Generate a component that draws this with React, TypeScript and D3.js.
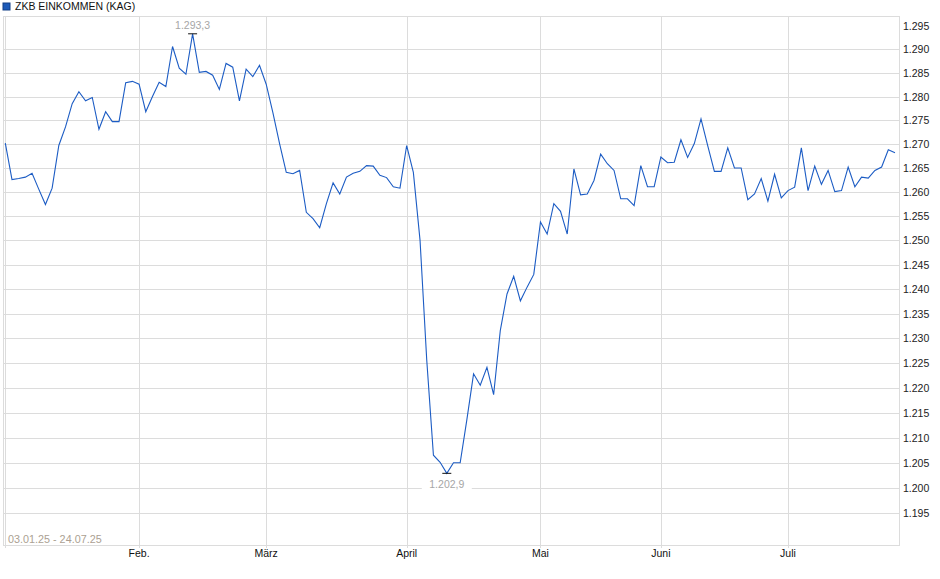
import * as d3 from 'd3'

// ZKB EINKOMMEN (KAG), daily prices 03.01.25 - 24.07.25 (one value per trading day)
const seriesName = 'ZKB EINKOMMEN (KAG)'
const rangeLabel = '03.01.25 - 24.07.25'

const janValues = [
  1.2702, 1.2626, 1.2628, 1.2631, 1.2639, 1.2606, 1.2574, 1.2608, 1.2697, 1.2736,
  1.2785, 1.281, 1.2791, 1.2798, 1.2731, 1.2768, 1.2747, 1.2747, 1.2829, 1.2832,
]
const febValues = [
  1.2826, 1.2768, 1.28, 1.283, 1.2821, 1.2906, 1.286, 1.2847, 1.2933, 1.2851,
  1.2853, 1.2845, 1.2815, 1.287, 1.2862, 1.2791, 1.2858, 1.2842, 1.2866,
]
const marValues = [
  1.2826, 1.2766, 1.2701, 1.2641, 1.2638, 1.2645, 1.2558, 1.2545, 1.2526, 1.2576,
  1.2619, 1.2596, 1.2631, 1.2639, 1.2643, 1.2655, 1.2654, 1.2635, 1.263, 1.2611,
  1.2608,
]
const aprValues = [
  1.2697, 1.2641, 1.25, 1.2256, 1.2065, 1.2051, 1.2029, 1.205, 1.205, 1.2136,
  1.2228, 1.2205, 1.2241, 1.2186, 1.2316, 1.239, 1.2426, 1.2376, 1.2404, 1.243,
]
const mayValues = [
  1.2538, 1.2513, 1.2576, 1.256, 1.2513, 1.2648, 1.2594, 1.2596, 1.2624, 1.2679,
  1.2659, 1.2645, 1.2586, 1.2586, 1.2572, 1.2655, 1.2611, 1.2611,
]
const junValues = [
  1.2673, 1.2661, 1.2662, 1.2709, 1.2672, 1.2701, 1.2753, 1.2697, 1.2643, 1.2643,
  1.2692, 1.265, 1.265, 1.2584, 1.2596, 1.2628, 1.2581, 1.2637, 1.2588,
]
const julValues = [
  1.2603, 1.261, 1.2692, 1.2603, 1.2654, 1.2616, 1.2645, 1.2601, 1.2603, 1.2652,
  1.2611, 1.2631, 1.2629, 1.2645, 1.2652, 1.2688, 1.2682,
]

const monthLabels = ['', 'Feb.', 'März', 'April', 'Mai', 'Juni', 'Juli']
const monthBlocks = [janValues, febValues, marValues, aprValues, mayValues, junValues, julValues]
const yTicks = [
  1.195, 1.2, 1.205, 1.21, 1.215, 1.22, 1.225, 1.23, 1.235, 1.24, 1.245,
  1.25, 1.255, 1.26, 1.265, 1.27, 1.275, 1.28, 1.285, 1.29, 1.295,
]

const values = monthBlocks.flat()
// index of the first trading day of every month
const monthStarts = monthBlocks.map((_, i) =>
  d3.sum(monthBlocks.slice(0, i), (b) => b.length)
)

const width = 940
const height = 579
const plotLeft = 3
const plotRight = 899
const plotTop = 16
const plotBottom = 545
const font = '"Liberation Sans", Arial, sans-serif'
const gridColor = '#dcdcdc'
const lineColor = '#1c5cc4'

const deFormat = d3.formatLocale({
  decimal: ',',
  thousands: '.',
  grouping: [3],
  currency: ['', ' €'],
}).format(',.1f')

export default function App() {
  const x = d3.scaleLinear().domain([0, values.length - 1]).range([5.3, 895])
  // the price axis is logarithmic
  const y = d3.scaleLog().domain([1.195, 1.29]).range([513.3, 49.3])

  const line = d3
    .line<number>()
    .x((_d, i) => x(i))
    .y((d) => y(d))

  const maxI = d3.maxIndex(values)
  const minI = d3.minIndex(values)
  const maxText = deFormat(values[maxI] * 1000)
  const minText = deFormat(values[minI] * 1000)

  return (
    <div style={{ position: 'absolute', left: 0, top: 0 }}>
      <svg width={width} height={height} style={{ display: 'block', fontFamily: font }}>
        <rect width={width} height={height} fill="#fff" />

        {/* legend */}
        <rect x={3} y={3} width={7} height={7} fill="#1d5ab8" stroke="#123e86" strokeWidth={1} />
        <text x={15} y={10} fontSize={10.5} fill="#111">
          {seriesName}
        </text>

        {/* horizontal grid */}
        {yTicks
          .filter((t) => y(t) > plotTop + 12)
          .map((t) => (
            <line
              key={'g' + t}
              x1={plotLeft}
              x2={plotRight}
              y1={Math.round(y(t)) + 0.5}
              y2={Math.round(y(t)) + 0.5}
              stroke={gridColor}
            />
          ))}

        {/* vertical grid at month starts */}
        {monthStarts.map((s) => (
          <line
            key={'v' + s}
            x1={Math.round(x(s)) + 0.5}
            x2={Math.round(x(s)) + 0.5}
            y1={plotTop}
            y2={plotBottom + 3}
            stroke={gridColor}
          />
        ))}

        {/* frame */}
        <rect
          x={plotLeft + 0.5}
          y={plotTop + 0.5}
          width={plotRight - plotLeft}
          height={plotBottom - plotTop}
          fill="none"
          stroke={gridColor}
        />

        {/* y labels */}
        {yTicks.map((t) => (
          <text key={'l' + t} x={903} y={y(t) + 4} fontSize={10.5} fill="#222">
            {d3.format('.3f')(t)}
          </text>
        ))}

        {/* month labels */}
        {monthStarts.map((s, i) =>
          monthLabels[i] ? (
            <text key={'m' + s} x={x(s)} y={557} fontSize={10.5} fill="#111" textAnchor="middle">
              {monthLabels[i]}
            </text>
          ) : null
        )}

        <text x={8} y={543} fontSize={10.8} fill="#ab9f92">
          {rangeLabel}
        </text>

        {/* price line */}
        <path d={line(values) ?? ''} fill="none" stroke={lineColor} strokeWidth={1.1} />

        {/* high / low markers */}
        <line x1={x(maxI) - 4.5} x2={x(maxI) + 4.5} y1={y(values[maxI])} y2={y(values[maxI])} stroke="#111" />
        <text x={x(maxI)} y={y(values[maxI]) - 5} fontSize={10.5} fill="#a6a6a6" textAnchor="middle">
          {maxText}
        </text>

        <line x1={x(minI) - 4.5} x2={x(minI) + 4.5} y1={y(values[minI])} y2={y(values[minI])} stroke="#111" />
        <rect x={x(minI) - 25} y={y(values[minI]) + 5} width={50} height={12} fill="#fff" />
        <text x={x(minI)} y={y(values[minI]) + 14.5} fontSize={10.5} fill="#a6a6a6" textAnchor="middle">
          {minText}
        </text>
      </svg>
    </div>
  )
}
